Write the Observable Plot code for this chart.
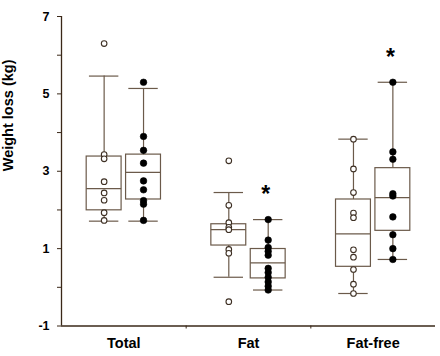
<!DOCTYPE html>
<html>
<head>
<meta charset="utf-8">
<script src="https://cdn.jsdelivr.net/npm/d3@7"></script>
<script src="https://cdn.jsdelivr.net/npm/@observablehq/plot@0.6"></script>
<style>
  html, body { margin: 0; padding: 0; background: #fff; }
</style>
</head>
<body>
<div id="chart"></div>
<script>
// ---- data ----
const groups = ["Total", "Fat", "Fat-free"];
const yTicks = [-1, 0, 1, 2, 3, 4, 5, 6, 7];

// individual values, open (white) circles
const openValues = [
  [6.30, 3.43, 3.32, 2.73, 2.44, 2.25, 1.93, 1.73],
  [3.27, 2.12, 1.67, 1.55, 1.49, 0.98, 0.88, -0.37],
  [3.83, 3.06, 2.45, 1.92, 1.80, 0.97, 0.78, 0.46, 0.08, -0.16]
];
// individual values, filled (black) circles
const filledValues = [
  [5.30, 3.90, 3.54, 3.21, 2.75, 2.52, 2.24, 2.15, 1.73],
  [1.75, 1.22, 1.03, 0.93, 0.83, 0.49, 0.38, 0.26, 0.14, 0.03, -0.07],
  [5.30, 3.50, 3.31, 2.42, 2.36, 1.82, 1.36, 1.00, 0.72]
];
// box statistics [low whisker, Q1, median, Q3, high whisker]
const openBoxes = [
  [1.71, 1.99, 2.55, 3.38, 5.46],
  [0.26, 1.08, 1.49, 1.63, 2.45],
  [-0.16, 0.53, 1.38, 2.27, 3.83]
];
const filledBoxes = [
  [1.71, 2.27, 2.97, 3.43, 5.14],
  [-0.07, 0.23, 0.63, 0.99, 1.75],
  [0.72, 1.46, 2.32, 3.08, 5.30]
];
// significance marker (*) on the filled series
const filledSignificant = [false, true, true];

// ---- layout constants ----
const offset = 0.158;   // series offset from group centre (x units)
const halfBox = 0.14;
const halfCap = 0.118;
const boxColor = "#6b5a4a";
const axisColor = "#3a2818";

const boxes = [];
const points = [];
groups.forEach((g, i) => {
  [["open", openBoxes, openValues, -1], ["filled", filledBoxes, filledValues, 1]].forEach(([kind, B, V, s]) => {
    const [lo, q1, med, q3, hi] = B[i];
    const x = i + 0.5 + s * offset;
    boxes.push({group: g, kind, x, lo, q1, med, q3, hi, sig: kind === "filled" && filledSignificant[i]});
    V[i].forEach(v => points.push({group: g, kind, x, v}));
  });
});

const font = "'Liberation Sans', Arial, sans-serif";

const chart = Plot.plot({
  width: 440,
  height: 356,
  marginLeft: 61,
  marginRight: 5,
  marginTop: 16,
  marginBottom: 30.5,
  x: {domain: [0, 3], axis: null},
  y: {domain: [-1, 7], axis: null},
  style: {fontFamily: font, background: "#fff", color: "#000"},
  marks: [
    // whiskers
    Plot.ruleX(boxes, {x: "x", y1: "q3", y2: "hi", stroke: boxColor, strokeWidth: 1.2}),
    Plot.ruleX(boxes, {x: "x", y1: "lo", y2: "q1", stroke: boxColor, strokeWidth: 1.2}),
    // caps
    Plot.ruleY(boxes, {y: "hi", x1: d => d.x - halfCap, x2: d => d.x + halfCap, stroke: boxColor, strokeWidth: 1.2}),
    Plot.ruleY(boxes, {y: "lo", x1: d => d.x - halfCap, x2: d => d.x + halfCap, stroke: boxColor, strokeWidth: 1.2}),
    // boxes
    Plot.rectY(boxes, {x1: d => d.x - halfBox, x2: d => d.x + halfBox, y1: "q1", y2: "q3", fill: "none", stroke: boxColor, strokeWidth: 1.2}),
    // medians
    Plot.ruleY(boxes, {y: "med", x1: d => d.x - halfBox, x2: d => d.x + halfBox, stroke: boxColor, strokeWidth: 1.2}),
    // points
    Plot.dot(points.filter(d => d.kind === "open"), {x: "x", y: "v", r: 2.8, fill: "#fff", stroke: "#3e3024", strokeWidth: 1.1}),
    Plot.dot(points.filter(d => d.kind === "filled"), {x: "x", y: "v", r: 3.3, fill: "#000", stroke: "#000", strokeWidth: 0.6}),
    // significance asterisks
    Plot.text(boxes.filter(d => d.sig), {x: d => d.x - 0.02, y: d => d.hi + 0.8, text: () => "*", fontSize: 23, fontWeight: "bold", dy: 6, fill: "#000"}),
    // axis lines
    Plot.ruleX([0], {y1: -1, y2: 7, stroke: axisColor, strokeWidth: 1.3}),
    Plot.ruleY([-1], {x1: 0, x2: 3, stroke: axisColor, strokeWidth: 1.3}),
    // y axis
    Plot.axisY({
      ticks: yTicks,
      tickFormat: d => Math.abs(d % 2) === 1 ? String(d) : "",
      tickSize: 4, tickPadding: 8,
      stroke: axisColor, fill: "#000",
      fontSize: 12.5, fontWeight: "bold",
      label: null
    }),
    // x axis: small ticks at group boundaries
    Plot.axisX({ticks: [1, 2], tickSize: 3, tickFormat: () => "", stroke: axisColor, label: null}),
    // x axis: group labels
    Plot.axisX({
      ticks: [0.5, 1.5, 2.5],
      tickSize: 0, tickPadding: 12,
      tickFormat: d => groups[Math.floor(d)],
      fontSize: 14.5, fontWeight: "bold", fill: "#000",
      label: null
    }),
    // y title
    Plot.text(["Weight loss (kg)"], {
      text: d => d, frameAnchor: "left", rotate: -90, dx: -59, lineAnchor: "top",
      fontSize: 14.5, fontWeight: "bold", fill: "#000"
    })
  ]
});

document.getElementById("chart").appendChild(chart);
</script>
</body>
</html>
